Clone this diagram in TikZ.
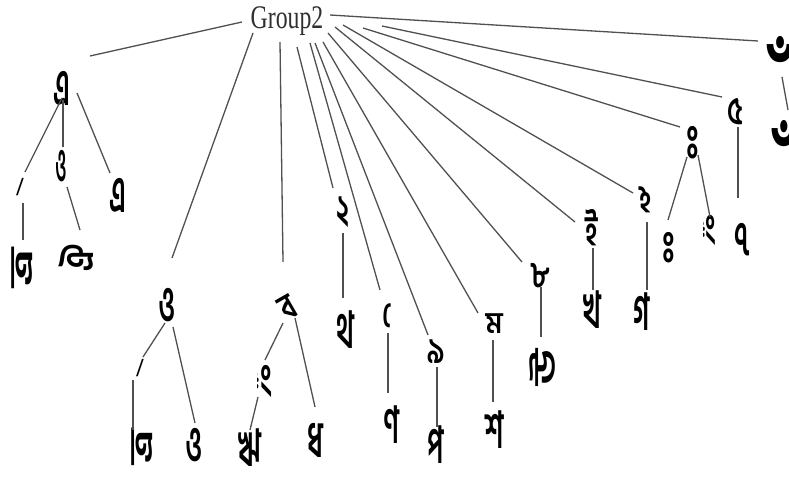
\documentclass[tikz,border=0pt]{standalone}
\usepackage{fontspec}
\usepackage{trimclip}
\setmainfont{Liberation Serif}
\newfontfamily\bn[Script=Bengali]{Hind Siliguri}
\usetikzlibrary{calc}
\definecolor{linkgray}{HTML}{505050}
\definecolor{rootgray}{HTML}{303030}
\tikzset{
  link/.style={draw=linkgray, line width=1.3pt},
  glyph/.style={font=\bn\fontsize{30}{32}\selectfont\bfseries, inner sep=0pt, text=black},
  stroke/.style={font=\fontsize{26}{28}\selectfont\bfseries, inner sep=0pt, text=black},
  rootlabel/.style={font=\fontsize{33}{35}\selectfont, inner sep=0pt, text=rootgray},
}
% connector between two named nodes, each end offset from the node centre
\newcommand{\linkto}[4]{\draw[link] ($(#1)+(#2)$) -- ($(#3)+(#4)$);}
% tall, narrow letter form
\newcommand{\gl}[1]{\scalebox{0.9}[1.7]{#1}}
\newcommand{\glw}[3]{\scalebox{#1}[#2]{#3}}
% lone signs: keep only the sign, without the placeholder circle the shaper adds
\newlength{\phw}\newlength{\phh}
\newcommand{\measureph}{\settowidth{\phw}{◌}\settoheight{\phh}{◌}}
\newcommand{\signafter}[1]{\measureph\clipbox{{\phw} 0pt 0pt 0pt}{#1}}
\newcommand{\signafterwide}[1]{\measureph\clipbox{{0.85\phw} 0pt 0pt 0pt}{#1}}
\newcommand{\signbefore}[1]{\measureph\clipbox{0pt 0pt {\phw} 0pt}{#1}}
\newcommand{\signabove}[1]{\measureph\clipbox{{0.2\phw} {\phh+1pt} 0pt 0pt}{#1}}

\begin{document}
\begin{tikzpicture}[x=1pt,y=-1pt]
\useasboundingbox (0,0) rectangle (789,492);

% root
\node[rootlabel] (R) at (287,21) {\scalebox{0.72}[1]{Group2}};

% left cluster
\node[glyph] (a) at (62,88) {\gl{এ}};
\node[stroke] (a1) at (20,187) {/};
\node[glyph, rotate=90] (a11) at (22,268) {\glw{2.1}{1.0}{ত্র}};
\node[glyph] (a2) at (61,166) {\glw{0.6}{1.6}{ও}};
\node[glyph, rotate=90] (a21) at (76,258) {\glw{1.1}{1.3}{ঐ}};
\node[glyph] (a3) at (118,195) {\gl{এ}};

% second cluster
\node[glyph] (b) at (167,305) {\gl{ও}};
\node[stroke] (b1) at (140,368) {/};
\node[glyph, rotate=90] (b11) at (142,447) {\glw{1.9}{1.0}{ত্র}};
\node[glyph] (b2) at (194,445) {\gl{ও}};

% third cluster
\node[glyph, rotate=30] (c) at (288,308) {\glw{0.9}{1.2}{ব}};
\node[glyph] (c1) at (265,381) {\glw{0.9}{1.6}{\signafterwide{ং}}};
\node[glyph] (c11) at (250,448) {\gl{ঋ}};
\node[glyph] (c2) at (315,440) {\gl{ধ}};

% single chains
\node[glyph] (d) at (343,212) {\glw{0.9}{1.4}{২}};
\node[glyph] (d1) at (345,330) {\gl{থ}};
\node[glyph] (e) at (387,316) {\glw{0.9}{1.2}{\signbefore{ে}}};
\node[glyph] (e1) at (391,425) {\gl{ণ}};
\node[glyph] (f) at (436,352) {\glw{0.9}{1.2}{৯}};
\node[glyph] (f1) at (436,445) {\gl{প}};
\node[glyph] (g) at (494,324) {\glw{0.9}{1.0}{ম}};
\node[glyph] (g1) at (495,430) {\gl{শ}};
\node[glyph] (h) at (540,276) {\glw{0.9}{1.2}{৮}};
\node[glyph, rotate=90] (h1) at (543,367) {\glw{1.8}{1.0}{উ}};
\node[glyph] (i) at (592,228) {\glw{0.9}{1.4}{ই}};
\node[glyph] (i1) at (592,310) {\gl{খ}};
\node[glyph] (j) at (646,200) {\glw{0.9}{1.3}{ঽ}};
\node[glyph] (j1) at (642,312) {\gl{গ}};
\node[glyph] (k) at (693,143) {\glw{1.0}{1.6}{\signafter{ঃ}}};
\node[glyph] (k1) at (669,248) {\glw{1.0}{1.5}{\signafter{ঃ}}};
\node[glyph] (k2) at (710,230) {\glw{0.8}{1.5}{\signafterwide{ং}}};
\node[glyph] (l) at (735,112) {\glw{0.9}{1.3}{৫}};
\node[glyph] (l1) at (742,240) {\glw{0.9}{1.6}{৭}};
\node[glyph] (m) at (770,54) {\glw{2.4}{3.8}{\signabove{ঁ}}};
\node[glyph] (m1) at (775,138) {\glw{2.2}{3.8}{\signabove{ঁ}}};

% root fan
\linkto{R}{-45,1}{a}{28,-32}
\linkto{R}{-34,12}{b}{5,-47}
\linkto{R}{-7,21}{c}{-5,-46}
\linkto{R}{10,26}{d}{-10,-24}
\linkto{R}{23,22}{e}{-7,-26}
\linkto{R}{28,22}{f}{-8,-17}
\linkto{R}{36,21}{g}{-16,-11}
\linkto{R}{41,12}{h}{-18,-14}
\linkto{R}{48,6}{i}{-17,-6}
\linkto{R}{56,4}{j}{-13,-7}
\linkto{R}{76,7}{k}{-13,-16}
\linkto{R}{95,5}{l}{-13,-15}
\linkto{R}{43,-6}{m}{-12,-13}

% subtrees
\linkto{a}{0,10}{a1}{5,-15}
\linkto{a1}{3,16}{a11}{1,-28}
\linkto{a}{1,12}{a2}{2,-19}
\linkto{a2}{6,21}{a21}{4,-28}
\linkto{a}{15,5}{a3}{-8,-22}

\linkto{b}{-2,18}{b1}{3,-11}
\linkto{b1}{-7,12}{b11}{-9,-17}
\linkto{b}{6,22}{b2}{1,-22}

\linkto{c}{-5,15}{c1}{0,-21}
\linkto{c1}{-7,16}{c11}{0,-18}
\linkto{c}{7,10}{c2}{0,-33}

\linkto{d}{0,21}{d1}{-2,-32}
\linkto{e}{1,17}{e1}{-3,-32}
\linkto{f}{1,15}{f1}{1,-18}
\linkto{g}{-1,16}{g1}{-2,-28}
\linkto{h}{1,11}{h1}{-2,-30}
\linkto{i}{1,20}{i1}{1,-20}
\linkto{j}{1,22}{j1}{5,-22}
\linkto{k}{-6,14}{k1}{-1,-28}
\linkto{k}{5,12}{k2}{0,-13}
\linkto{l}{3,15}{l1}{-4,-42}
\linkto{m}{12,23}{m1}{13,-28}
\end{tikzpicture}
\end{document}
